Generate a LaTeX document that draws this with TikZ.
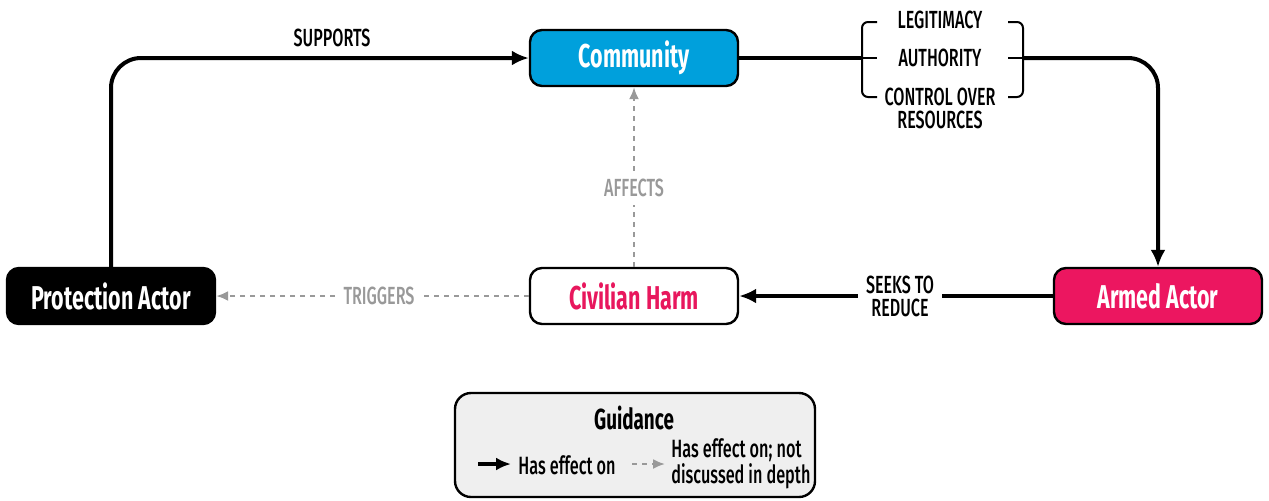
\documentclass[tikz,border=0pt]{standalone}
\usepackage{fontspec}
\setmainfont{Fira Sans}[FakeStretch=0.65]
\newfontfamily\mediumfont{Fira Sans Medium}[FakeStretch=0.65]
\usetikzlibrary{arrows.meta}
\usepackage{xcolor}
\definecolor{commblue}{HTML}{00A0DC}
\definecolor{armedred}{HTML}{EC1660}
\definecolor{harmred}{HTML}{E8175D}
\definecolor{minorgray}{HTML}{999999}
\definecolor{legendgray}{HTML}{EFEFEF}
\tikzset{
	actor/.style={draw, line width=1.2pt, rounded corners=6pt, minimum width=104pt, minimum height=28pt, inner sep=0pt, font=\fontsize{16.5}{18}\selectfont\bfseries},
	lbl/.style={font=\fontsize{12.4}{13.5}\selectfont\mediumfont, align=center, inner sep=1pt},
	gap/.style={fill=white, inner xsep=4pt, inner ysep=4pt},
	main/.style={line width=2pt},
	minor/.style={line width=1pt, minorgray, dash pattern=on 2.5pt off 2.5pt},
	brk/.style={line width=1pt, rounded corners=3pt},
}

\begin{document}
\begin{tikzpicture}[x=0.5pt, y=-0.5pt]
	\useasboundingbox (0,0) rectangle (1269,500);
	% actors
	\node (comm) [actor, fill=commblue, text=white] at (634, 58) {Community};
	\node (prot) [actor, fill=black, text=white] at (111, 296) {Protection Actor};
	\node (harm) [actor, fill=white, text=harmred] at (634, 296) {Civilian Harm};
	\node (armed) [actor, fill=armedred, text=white] at (1158, 296) {Armed Actor};
	% labels
	\node (supports) [lbl] at (332, 38) {SUPPORTS};
	\node (reduce) [lbl, gap] at (900, 296) {SEEKS TO\\[-2pt]REDUCE};
	\node (affects) [lbl, gap, text=minorgray] at (634, 188) {AFFECTS};
	\node (triggers) [lbl, gap, text=minorgray] at (379, 296) {TRIGGERS};
	\node (legit) [lbl] at (940, 20) {LEGITIMACY};
	\node (auth) [lbl] at (940, 58) {AUTHORITY};
	\node (control) [lbl] at (940, 108) {CONTROL OVER\\[-2pt]RESOURCES};
	% brackets
	\coordinate (lbrk) at (862, 58);
	\coordinate (rbrk) at (1023, 58);
	\draw[brk] (877, 22) -- (862, 22) -- (862, 97) -- (877, 97);
	\draw[brk] (lbrk) -- (877, 58);
	\draw[brk] (1008, 22) -- (1023, 22) -- (1023, 97) -- (1008, 97);
	\draw[brk] (1008, 58) -- (rbrk);
	% connectors
	\draw[main, rounded corners=15pt, -{Latex[length=8.5pt, width=7.5pt]}] (prot.north) |- (comm.west);
	\draw[main] (comm.east) -- (lbrk);
	\draw[main, rounded corners=15pt, -{Latex[length=8.5pt, width=7.5pt]}] (rbrk) -| (armed.north);
	\draw[main] (armed.west) -- (reduce.east);
	\draw[main, -{Latex[length=8.5pt, width=7.5pt]}] (reduce.west) -- (harm.east);
	\draw[minor] (harm.north) -- (affects.south);
	\draw[minor, -{Latex[length=6pt, width=5pt]}] (affects.north) -- (comm.south);
	\draw[minor] (harm.west) -- (triggers.east);
	\draw[minor, -{Latex[length=6pt, width=5pt]}] (triggers.west) -- (prot.east);
	% legend
	\node (legend) [draw, line width=1.2pt, rounded corners=8pt, fill=legendgray, minimum width=180pt, minimum height=52pt] at (635, 445) {};
	\node (guide) [font=\fontsize{14.5}{16}\selectfont\bfseries] at (634, 418) {Guidance};
	\coordinate (keyaa) at (478, 464);
	\coordinate (keyab) at (511, 464);
	\coordinate (keyba) at (632, 464);
	\coordinate (keybb) at (665, 464);
	\draw[main, -{Latex[length=7.5pt, width=6.5pt]}] (keyaa) -- (keyab);
	\draw[minor, -{Latex[length=6pt, width=5pt]}] (keyba) -- (keybb);
	\node (keyatext) [anchor=west, inner sep=0pt, font=\fontsize{12.5}{14}\selectfont\mediumfont] at (518, 465) {Has effect on};
	\node (keybtext) [anchor=west, inner sep=0pt, align=left, font=\fontsize{12.5}{12}\selectfont\mediumfont] at (671, 464) {Has effect on; not\\discussed in depth};
\end{tikzpicture}
\end{document}
